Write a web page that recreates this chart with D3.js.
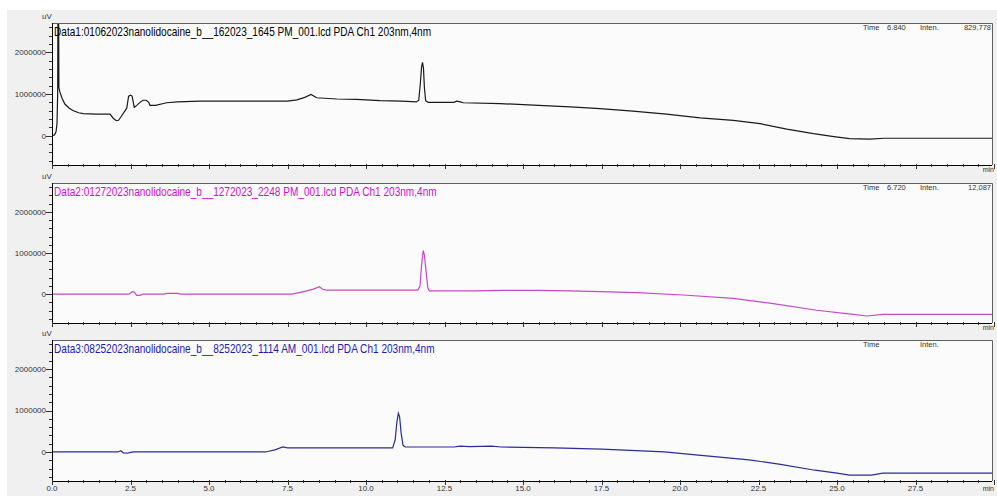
<!DOCTYPE html>
<html><head><meta charset="utf-8">
<script src="https://cdn.jsdelivr.net/npm/d3@7"></script>
<style>html,body{margin:0;padding:0;background:#fff;}svg{display:block;font-family:"Liberation Sans",Arial,sans-serif;}</style>
</head><body>
<svg id="c" width="997" height="499"></svg>
<script>
// ---- data ----
const titles = [
  "Data1:01062023nanolidocaine_b__162023_1645 PM_001.lcd PDA Ch1 203nm,4nm",
  "Data2:01272023nanolidocaine_b__1272023_2248 PM_001.lcd PDA Ch1 203nm,4nm",
  "Data3:08252023nanolidocaine_b__8252023_1114 AM_001.lcd PDA Ch1 203nm,4nm"
];
const infoTime = ["6.840", "6.720", ""];
const infoInten = ["829,778", "12,087", ""];
const xTicks = [0, 2.5, 5, 7.5, 10, 12.5, 15, 17.5, 20, 22.5, 25, 27.5];
const yTickLabels = [0, 1000000, 2000000];

const p1Time = [0,0.08,0.13,0.16,0.18,0.19,0.21,0.22,0.25,0.32,0.41,0.55,0.68,0.85,1.0,1.4,1.85,1.95,2.05,2.12,2.22,2.38,2.44,2.5,2.55,2.62,2.72,2.8,2.9,3.0,3.08,3.12,3.3,3.65,4.0,4.7,6.0,7.5,7.8,8.05,8.25,8.43,9.07,9.7,10.45,11.14,11.6,11.68,11.73,11.77,11.8,11.83,11.86,11.9,11.98,12.8,12.89,13.0,13.1,14.27,15.5,16.5,17.45,18.5,19.57,20.64,21.7,22.55,23.4,24.25,24.9,25.4,26.05,26.5,30];
const p1Signal = [0,20000,100000,300000,1000000,2900000,2900000,1150000,1050000,900000,760000,660000,600000,550000,530000,520000,520000,420000,360000,370000,480000,660000,950000,970000,950000,680000,740000,800000,850000,850000,800000,730000,730000,790000,810000,830000,830000,830000,860000,920000,990000,910000,880000,870000,840000,830000,810000,850000,1250000,1650000,1760000,1620000,1150000,840000,800000,800000,830000,810000,790000,770000,730000,690000,650000,590000,520000,430000,370000,290000,160000,50000,-20000,-70000,-80000,-60000,-60000];

const p2Time = [0,2.45,2.55,2.62,2.7,2.8,2.9,3.55,3.65,4.0,4.1,7.65,8.11,8.35,8.51,8.62,8.75,11.65,11.72,11.77,11.82,11.86,11.92,11.97,12.02,13.4,14.27,15.5,16.5,17.45,18.62,20.1,21.7,22.97,24.35,25.52,25.94,26.48,30];
const p2Signal = [0,0,60000,50000,-30000,-30000,0,0,20000,20000,0,0,80000,130000,180000,120000,100000,100000,200000,700000,1060000,950000,500000,150000,80000,80000,90000,90000,80000,60000,40000,-20000,-100000,-230000,-390000,-490000,-530000,-490000,-490000];

const p3Time = [0,2.1,2.19,2.27,2.4,2.5,2.6,6.8,7.1,7.35,7.5,8.5,10.0,10.85,10.93,10.98,11.03,11.07,11.12,11.18,11.25,12.8,13.0,13.3,14.0,14.3,16.0,17.5,19.5,20.5,22.2,23.2,24.3,25.0,25.4,26.1,26.46,30];
const p3Signal = [0,0,30000,-20000,-30000,-10000,0,0,50000,120000,100000,100000,100000,100000,300000,700000,930000,850000,450000,160000,120000,120000,140000,130000,140000,120000,100000,70000,0,-70000,-190000,-300000,-440000,-510000,-560000,-560000,-510000,-510000];

const series = [
  {t: p1Time, v: p1Signal},
  {t: p2Time, v: p2Signal},
  {t: p3Time, v: p3Signal}
];

// ---- layout/style ----
const panels = [{top:23, bottom:165}, {top:183, bottom:323}, {top:340, bottom:481}];
const lineColors = ["#1a1a1a", "#c848c8", "#2c2c98"];
const titleColors = ["#000000", "#d010d0", "#1a1ab4"];
const left = 52, right = 992;

const svg = d3.select("#c");
svg.append("rect").attr("x",7).attr("y",10).attr("width",990).attr("height",486).attr("fill","#f0f0f0");

const x = d3.scaleLinear().domain([0,30]).range([left, left + 31.4*30]);

panels.forEach((p, i) => {
  const y = d3.scaleLinear().domain([-700000, 2700000]).range([p.bottom, p.top]);
  const g = svg.append("g");
  g.append("rect").attr("x",left).attr("y",p.top).attr("width",right-left).attr("height",p.bottom-p.top)
    .attr("fill","#fbfbfb");
  g.append("path").attr("d",`M${left},${p.top+0.5}H${right+0.5}V${p.bottom}`).attr("fill","none").attr("stroke","#606060").attr("stroke-width",1);

  const cid = "clip"+i;
  svg.append("clipPath").attr("id",cid).append("rect").attr("x",left).attr("y",p.top+1).attr("width",right-left).attr("height",p.bottom-p.top-1);

  const s = series[i];
  const pts = s.t.map((t,k)=>[t, s.v[k]]);
  g.append("path").datum(pts).attr("clip-path",`url(#${cid})`)
    .attr("d", d3.line().x(d=>x(d[0])).y(d=>y(d[1])))
    .attr("fill","none").attr("stroke",lineColors[i]).attr("stroke-width",1.2);

  // y axis
  const yMinor = d3.range(-600000, 2700001, 200000);
  g.append("line").attr("x1",left+0.5).attr("x2",left+0.5).attr("y1",p.top).attr("y2",p.bottom).attr("stroke","#000");
  yMinor.forEach(v=>{
    const major = yTickLabels.includes(v);
    g.append("line").attr("x1",left-(major?6:3)).attr("x2",left).attr("y1",Math.round(y(v))+0.5).attr("y2",Math.round(y(v))+0.5).attr("stroke","#333");
  });
  yTickLabels.forEach(v=>{
    g.append("text").attr("x",left-6).attr("y",y(v)).attr("dy","0.35em").attr("text-anchor","end")
      .attr("font-size",8).attr("fill","#333").text(v);
  });
  g.append("text").attr("x",42).attr("y",p.top-4).attr("font-size",8).attr("fill","#333").text("uV");

  // x axis
  g.append("line").attr("x1",left).attr("x2",right).attr("y1",p.bottom+0.5).attr("y2",p.bottom+0.5).attr("stroke","#000");
  d3.range(0, 30.01, 0.5).forEach(t=>{
    const major = Math.abs(t/2.5 - Math.round(t/2.5)) < 1e-6;
    g.append("line").attr("x1",Math.round(x(t))+0.5).attr("x2",Math.round(x(t))+0.5)
      .attr("y1",p.bottom-1).attr("y2",p.bottom+(major?4:2)).attr("stroke","#333");
  });
  if (i === 2) {
    xTicks.forEach(t=>{
      g.append("text").attr("x",x(t)).attr("y",p.bottom+10).attr("text-anchor","middle")
        .attr("font-size",8).attr("fill","#333").text(t.toFixed(1));
    });
  }
  g.append("text").attr("x",right+2).attr("y",p.bottom+(i===2?10:7)).attr("text-anchor","end").attr("font-size",7).attr("fill","#333").text("min");

  // title
  g.append("text").attr("transform",`translate(${left+2},${p.top+13}) scale(0.84,1)`)
    .attr("font-size",12).attr("fill",titleColors[i]).text(titles[i]);

  // info
  const iy = p.top + 7;
  g.append("text").attr("x",863).attr("y",iy).attr("font-size",7.5).attr("fill","#333").text("Time");
  g.append("text").attr("x",887).attr("y",iy).attr("font-size",7.5).attr("fill","#333").text(infoTime[i]);
  g.append("text").attr("x",920).attr("y",iy).attr("font-size",7.5).attr("fill","#333").text("Inten.");
  g.append("text").attr("x",991).attr("y",iy).attr("text-anchor","end").attr("font-size",7.5).attr("fill","#333").text(infoInten[i]);
});
</script>
</body></html>
